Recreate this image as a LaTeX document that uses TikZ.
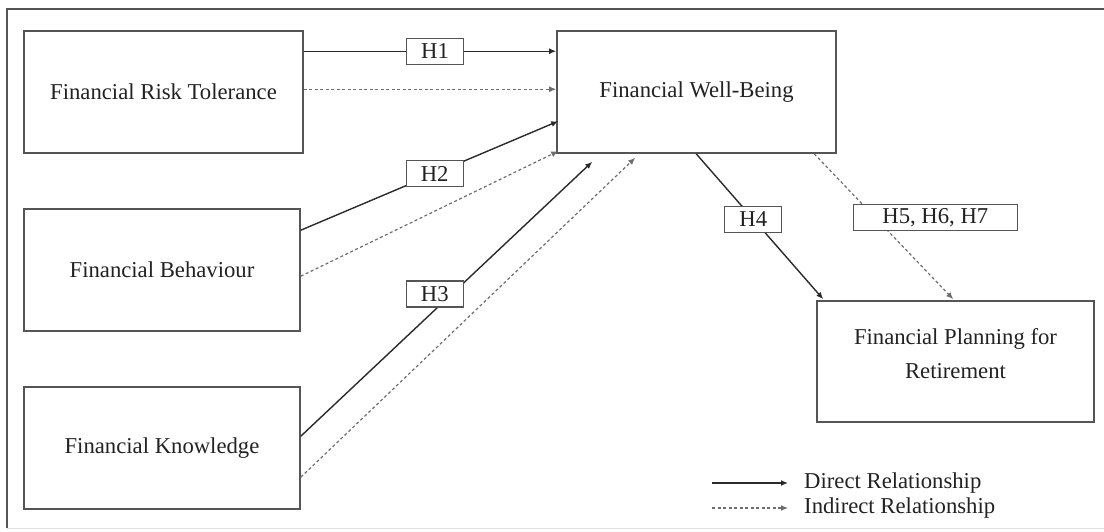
\documentclass[tikz,border=0pt]{standalone}
\usepackage{fontspec}
\setmainfont{Liberation Serif}
\usetikzlibrary{arrows.meta,calc}
\definecolor{txt}{HTML}{222222}
\definecolor{bord}{HTML}{555555}
\definecolor{solidc}{HTML}{2A2A2A}
\definecolor{dashc}{HTML}{6E6E6E}
\tikzset{
  box/.style={draw=bord, line width=1.6pt, minimum height=122pt, align=center, text=txt, inner sep=0pt,
    font=\fontsize{22.7}{34}\selectfont},
  lab/.style={solid, draw=bord, line width=1.2pt, fill=white, minimum height=26pt, minimum width=57pt, inner sep=0pt,
    text=txt, font=\fontsize{22.7}{27}\selectfont},
  direct/.style={draw=solidc, line width=1.4pt, -{Latex[length=7pt,width=6pt]}},
  indirect/.style={draw=dashc, line width=1.2pt, dash pattern=on 3pt off 2.5pt, -{Latex[length=7pt,width=6pt]}},
  legtext/.style={anchor=west, text=txt, inner sep=0pt, font=\fontsize{22.7}{27}\selectfont},
  frame/.style={draw=bord, line width=1.4pt}
}
\begin{document}
\begin{tikzpicture}[x=1pt,y=-1pt]
\useasboundingbox (0,0) rectangle (1104,531);
% frame
\coordinate (ftl) at (7,9);
\coordinate (ftr) at (1104,9);
\coordinate (fbl) at (7,528);
\coordinate (fbr) at (1104,528);
\draw[frame] (ftr) -- (ftl) -- (fbl);
\draw[draw=gray!25, line width=1pt] (fbl) -- (fbr);

% boxes
\node[box, minimum width=279pt] (FRT) at (163.5,92) {Financial Risk Tolerance};
\node[box, minimum width=279pt] (FWB) at (696.5,92) {Financial Well-Being};
\node[box, minimum width=276pt] (FB) at (162,270) {Financial Behaviour};
\node[box, minimum width=276pt] (FK) at (162,448) {Financial Knowledge};
\node[box, minimum width=277pt, minimum height=121pt] (FPR) at (955.5,361.5)
  {\raisebox{7pt}[\height][\depth]{\begin{tabular}{@{}c@{}}Financial Planning for\\Retirement\end{tabular}}};

% connectors
\draw[direct] ($(FRT.north east)+(0,21)$) -- node[lab, pos=0.52] (h1) {H1} ($(FWB.north west)+(0,21)$);
\draw[indirect] ($(FRT.north east)+(0,59)$) -- ($(FWB.north west)+(0,59)$);

\draw[direct] ($(FB.north east)+(0,22)$) -- node[lab, pos=0.52] (h2) {H2} ($(FWB.north west)+(2,91)$);
\draw[indirect] ($(FB.north east)+(0,68)$) -- ($(FWB.north west)+(2,121)$);

\draw[direct] ($(FK.north east)+(0,50)$) -- node[lab, pos=0.518, xshift=-17pt] (h3) {H3} ($(FWB.south west)+(36,8)$);
\draw[indirect] ($(FK.north east)+(0,91)$) -- ($(FWB.south west)+(79,4)$);

\draw[direct] ($(FWB.south west)+(140,0)$) -- node[lab, pos=0.45] (h4) {H4} ($(FPR.north west)+(7,-1)$);
\draw[indirect] ($(FWB.south west)+(258,0)$) -- node[lab, pos=0.44, xshift=60pt, minimum width=164pt] (h5) {H5, H6, H7} ($(FPR.north west)+(137,-1)$);

% legend
\coordinate (l1a) at (712,483);
\coordinate (l1b) at (788,483);
\coordinate (l2a) at (712,508);
\coordinate (l2b) at (788,508);
\draw[direct] (l1a) -- (l1b);
\draw[indirect] (l2a) -- (l2b);
\node[legtext] (ld) at (804,483) {Direct Relationship};
\node[legtext] (li) at (804,508) {Indirect Relationship};
\end{tikzpicture}
\end{document}
